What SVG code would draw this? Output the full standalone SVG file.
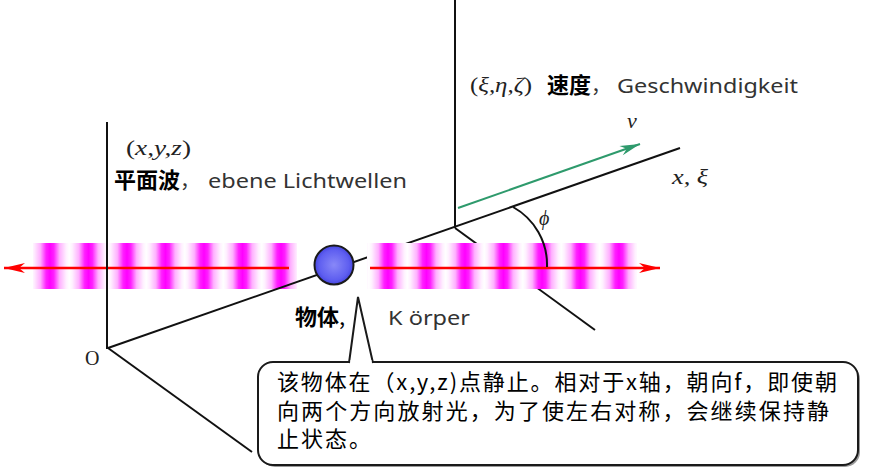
<svg xmlns="http://www.w3.org/2000/svg" width="870" height="473" viewBox="0 0 870 473">
<defs>
<linearGradient id="stripeL" gradientUnits="userSpaceOnUse" x1="30.75" y1="0" x2="69.25" y2="0" spreadMethod="repeat">
<stop offset="0" stop-color="#ffffff"/>
<stop offset="0.08" stop-color="#fff0ff"/>
<stop offset="0.25" stop-color="#ffb0ff"/>
<stop offset="0.4" stop-color="#ff20ff"/>
<stop offset="0.5" stop-color="#ff00ff"/>
<stop offset="0.6" stop-color="#ff20ff"/>
<stop offset="0.75" stop-color="#ffb0ff"/>
<stop offset="0.92" stop-color="#fff0ff"/>
<stop offset="1" stop-color="#ffffff"/>
</linearGradient>
<linearGradient id="stripeR" href="#stripeL" gradientUnits="userSpaceOnUse" x1="368.75" y1="0" x2="407.25" y2="0" spreadMethod="repeat"/>
<radialGradient id="ball" cx="0.5" cy="0.5" r="0.55">
<stop offset="0" stop-color="#8888f8"/>
<stop offset="0.7" stop-color="#5e5ef0"/>
<stop offset="1" stop-color="#3a3ad8"/>
</radialGradient>
<marker id="redHead" viewBox="-22 -6 24 12" refX="0" refY="0" markerWidth="24" markerHeight="12" markerUnits="userSpaceOnUse" orient="auto">
<path d="M0,0 L-21,-5 L-15,0 L-21,5 Z" fill="#ff0000"/>
</marker>
<marker id="greenHead" viewBox="-22 -6 24 12" refX="0" refY="0" markerWidth="24" markerHeight="12" markerUnits="userSpaceOnUse" orient="auto">
<path d="M0,0 L-20,-5 L-14,0 L-20,5 Z" fill="#2e9a6c"/>
</marker>
</defs>
<style>
.ax{stroke:#111;stroke-width:2;fill:none;stroke-linecap:butt}
.math{font-family:"Liberation Serif","DejaVu Serif",serif;font-style:italic;fill:#222}
.cjkb{font-family:"Noto Sans CJK SC","Noto Sans",sans-serif;font-weight:bold;fill:#000}
.gray{font-family:"Noto Sans","Liberation Sans","Noto Sans CJK SC",sans-serif;fill:#333}
.note{font-family:"Noto Sans CJK SC","Noto Sans",sans-serif;fill:#000;font-size:22px}
</style>

<g id="wave-left">
<rect x="33" y="243" width="264" height="46" fill="url(#stripeL)"/>
</g>

<g id="connectors">
<line class="ax" x1="108" y1="348" x2="680" y2="148"/>
<line class="ax" x1="455" y1="228" x2="595" y2="330"/>
<line class="ax" x1="455" y1="0" x2="455" y2="228"/>
<line class="ax" x1="108" y1="348" x2="252" y2="452"/>
</g>

<g id="wave-right">
<rect x="367" y="243" width="270" height="46" fill="url(#stripeR)"/>
</g>

<g id="arrows">
<line x1="289" y1="268" x2="4" y2="268" stroke="#ff0000" stroke-width="2.5" marker-end="url(#redHead)"/>
<line x1="370" y1="268" x2="660" y2="268" stroke="#ff0000" stroke-width="2.5" marker-end="url(#redHead)"/>
<line x1="458" y1="208" x2="640" y2="144" stroke="#2e9a6c" stroke-width="2" marker-end="url(#greenHead)"/>
<path class="ax" d="M513,207 A66,66 0 0 1 547,267"/>
<line class="ax" x1="107" y1="122" x2="107" y2="349"/>
</g>

<g id="body">
<circle cx="334" cy="265" r="19.5" fill="url(#ball)" stroke="#1a1a1a" stroke-width="2"/>
</g>

<g id="labels">
<text class="math" x="126" y="155" font-size="21" textLength="65" lengthAdjust="spacingAndGlyphs"><tspan font-style="normal">(</tspan>x,y,z<tspan font-style="normal">)</tspan></text>
<text x="114" y="188" font-size="22"><tspan class="cjkb">平面波</tspan><tspan class="gray" font-size="20">，</tspan></text>
<text class="gray" x="208" y="188" font-size="20" textLength="199" lengthAdjust="spacingAndGlyphs">ebene Lichtwellen</text>
<text class="math" x="470" y="92" font-size="21" textLength="62" lengthAdjust="spacingAndGlyphs"><tspan font-style="normal">(</tspan>ξ,η,ζ<tspan font-style="normal">)</tspan></text>
<text x="547" y="93" font-size="22"><tspan class="cjkb">速度</tspan><tspan class="gray" font-size="20">，</tspan></text>
<text class="gray" x="617" y="93" font-size="20" textLength="181" lengthAdjust="spacingAndGlyphs">Geschwindigkeit</text>
<text class="math" x="627" y="128" font-size="22">v</text>
<text class="math" x="672" y="184" font-size="21" textLength="36" lengthAdjust="spacingAndGlyphs">x, ξ</text>
<text class="math" x="539" y="225" font-size="20">ϕ</text>
<text class="cjkb" x="295" y="325" font-size="22">物体<tspan font-weight="normal">,</tspan></text>
<text class="gray" x="388" y="325" font-size="20" textLength="82" lengthAdjust="spacingAndGlyphs">K örper</text>
<text x="85" y="365" font-size="20" font-family="Liberation Serif, DejaVu Serif, serif" fill="#222">O</text>
</g>

<g id="callout">
<rect x="260" y="364" width="600" height="103" rx="15" fill="#9a9a9a"/>
<rect x="258" y="362" width="600" height="103" rx="15" fill="#fff" stroke="#1a1a1a" stroke-width="2"/>
<path d="M349,363 L358,297 L373,363" fill="#fff" stroke="#1a1a1a" stroke-width="2" stroke-linejoin="miter"/>
<rect x="350.5" y="360" width="21" height="4" fill="#fff"/>
<text class="note" x="277" y="390" textLength="560" lengthAdjust="spacing">该物体在（x,y,z)点静止。相对于x轴，朝向f，即使朝</text>
<text class="note" x="277" y="418.5" textLength="552" lengthAdjust="spacing">向两个方向放射光，为了使左右对称，会继续保持静</text>
<text class="note" x="277" y="447" letter-spacing="2">止状态。</text>
</g>
</svg>
